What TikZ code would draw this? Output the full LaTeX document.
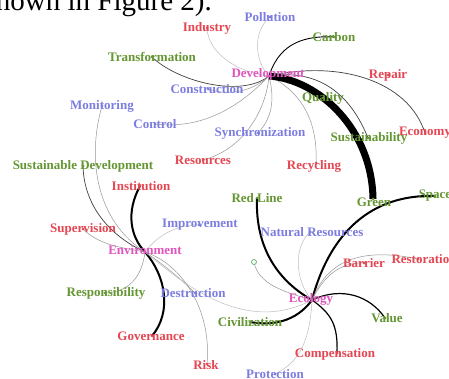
\documentclass[tikz,border=0pt]{standalone}
\usepackage{fontspec}
\setmainfont{Liberation Serif}
\definecolor{cred}{RGB}{228,70,82}
\definecolor{cpur}{RGB}{125,125,225}
\definecolor{cgrn}{RGB}{100,150,50}
\definecolor{cmag}{RGB}{225,85,190}
\definecolor{cgray}{RGB}{150,150,150}
\definecolor{clgray}{RGB}{190,190,190}
\tikzset{
  lab/.style={inner sep=0pt, font=\bfseries\fontsize{13}{13}\selectfont},
  rlab/.style={lab, text=cred},
  plab/.style={lab, text=cpur},
  glab/.style={lab, text=cgrn},
  mlab/.style={lab, text=cmag},
  dotr/.style={fill=cred, circle, inner sep=0pt, minimum size=3pt},
  dotp/.style={fill=cpur, circle, inner sep=0pt, minimum size=3pt},
  dotg/.style={fill=cgrn, circle, inner sep=0pt, minimum size=3pt},
  dotm/.style={fill=cmag, circle, inner sep=0pt, minimum size=3pt},
  egray/.style={draw=cgray, line width=0.5pt},
  elgray/.style={draw=clgray, line width=0.5pt},
  edark/.style={draw=black!75, line width=0.7pt},
  eblack/.style={draw=black, line width=1.2pt},
  ethick/.style={draw=black, line width=2pt},
  ehuge/.style={draw=black, line width=7pt},
}
\begin{document}
\begin{tikzpicture}[x=1pt,y=-1pt]
\useasboundingbox (0,0) rectangle (449,379);
\clip (0,0) rectangle (449,379);
\fill[white] (0,0) rectangle (449,379);
% caption fragment
\node[anchor=base east, inner sep=0pt, font=\fontsize{29}{29}\selectfont] (cap) at (212,11) {shown in Figure 2).};
% coordinates
\coordinate (dev) at (269,76);
\coordinate (ind) at (207,28);
\coordinate (pol) at (270,17);
\coordinate (car) at (334,37);
\coordinate (tra) at (152,57);
\coordinate (rep) at (388,75);
\coordinate (con) at (208,89);
\coordinate (qua) at (323,98);
\coordinate (mon) at (102,106);
\coordinate (ctl) at (155,124);
\coordinate (syn) at (258,133);
\coordinate (sus) at (368,138);
\coordinate (eco) at (425,133);
\coordinate (res) at (203,160);
\coordinate (rec) at (316,163);
\coordinate (sd) at (83,166);
\coordinate (ins) at (140,186);
\coordinate (grn) at (373,199);
\coordinate (spa) at (435,196);
\coordinate (red) at (257,198);
\coordinate (imp) at (199,225);
\coordinate (nat) at (310,232);
\coordinate (sup) at (83,229);
\coordinate (env) at (145,252);
\coordinate (bar) at (364,263);
\coordinate (rst) at (418,259);
\coordinate (ecl) at (312,300);
\coordinate (rsp) at (105,293);
\coordinate (des) at (195,293);
\coordinate (civ) at (250,322);
\coordinate (val) at (385,318);
\coordinate (gov) at (152,336);
\coordinate (cmp) at (337,353);
\coordinate (rsk) at (207,364);
\coordinate (pro) at (275,374);
\coordinate (sml) at (254,262);
% ---- edges: Development
\draw[elgray] (ind) .. controls (208,52) and (235,72) .. (dev);
\draw[elgray] (pol) .. controls (252,32) and (255,62) .. (dev);
\draw[eblack, line width=0.9pt] (dev) .. controls (278,48) and (298,35) .. (car);
\draw[edark] (tra) .. controls (178,82) and (242,98) .. (dev);
\draw[egray] (con) .. controls (228,96) and (252,92) .. (dev);
\draw[egray] (ctl) .. controls (205,130) and (242,104) .. (dev);
\draw[egray] (res) .. controls (242,150) and (266,112) .. (dev);
\draw[egray] (syn) .. controls (274,116) and (274,96) .. (dev);
\draw[egray] (dev) .. controls (302,92) and (318,122) .. (rec);
\draw[egray] (dev) .. controls (292,80) and (312,88) .. (qua);
\draw[edark] (dev) .. controls (322,68) and (352,98) .. (sus);
\draw[edark] (dev) .. controls (338,60) and (408,80) .. (eco);
\draw[ehuge] (dev) .. controls (320,80) and (372,130) .. (grn);
% ---- edges: Environment
\draw[ethick] (ins) .. controls (126,212) and (130,236) .. (env);
\draw[ethick] (env) .. controls (166,276) and (172,312) .. (gov);
\draw[edark] (sd) .. controls (84,206) and (110,236) .. (env);
\draw[egray] (mon) .. controls (86,162) and (98,222) .. (env);
\draw[egray] (sup) .. controls (100,246) and (125,248) .. (env);
\draw[elgray] (env) .. controls (160,232) and (182,224) .. (imp);
\draw[egray] (env) .. controls (142,276) and (130,292) .. (rsp);
\draw[egray] (env) .. controls (166,266) and (184,282) .. (des);
\draw[egray] (env) .. controls (182,264) and (212,310) .. (rsk);
\draw[elgray] (env) .. controls (185,285) and (245,335) .. (ecl);
% ---- edges: Ecology
\draw[ethick] (red) .. controls (255,250) and (280,282) .. (ecl);
\draw[ethick] (ecl) .. controls (330,232) and (372,194) .. (spa);
\draw[egray] (ecl) .. controls (324,276) and (340,262) .. (bar);
\draw[egray] (ecl) .. controls (326,264) and (356,246) .. (rst);
\draw[egray] (ecl) .. controls (284,292) and (258,284) .. (sml);
\draw[elgray] (ecl) .. controls (294,280) and (294,246) .. (nat);
\draw[eblack] (ecl) .. controls (342,286) and (370,296) .. (val);
\draw[eblack] (ecl) .. controls (332,314) and (338,326) .. (cmp);
\draw[elgray] (ecl) .. controls (310,340) and (300,362) .. (pro);
\draw[ethick] (ecl) .. controls (296,322) and (272,326) .. (civ);
% ---- labels
\node[rlab] (indL) at (ind) {Industry};
\node[plab] (polL) at (pol) {Pollution};
\node[glab] (carL) at (car) {Carbon};
\node[glab] (traL) at (tra) {Transformation};
\node[mlab] (devL) at (268,74) {Development};
\node[rlab] (repL) at (rep) {Repair};
\node[plab] (conL) at (207,89) {Construction};
\node[glab] (quaL) at (qua) {Quality};
\node[plab] (monL) at (mon) {Monitoring};
\node[plab] (ctlL) at (ctl) {Control};
\node[plab] (synL) at (260,133) {Synchronization};
\node[glab] (susL) at (369,138) {Sustainability};
\node[rlab] (ecoL) at (eco) {Economy};
\node[rlab] (resL) at (res) {Resources};
\node[rlab] (recL) at (314,166) {Recycling};
\node[glab] (sdL) at (sd) {Sustainable Development};
\node[rlab] (insL) at (141,186) {Institution};
\node[glab] (grnL) at (374,202) {Green};
\node[glab] (spaL) at (spa) {Space};
\node[glab] (redL) at (red) {Red Line};
\node[plab] (impL) at (200,225) {Improvement};
\node[plab] (natL) at (312,232) {Natural Resources};
\node[rlab] (supL) at (sup) {Supervision};
\node[mlab] (envL) at (145,250) {Environment};
\node[rlab] (barL) at (bar) {Barrier};
\node[rlab] (rstL) at (424,259) {Restoration};
\node[mlab] (eclL) at (311,299) {Ecology};
\node[glab] (rspL) at (106,293) {Responsibility};
\node[plab] (desL) at (193,293) {Destruction};
\node[glab] (civL) at (250,322) {Civilization};
\node[glab] (valL) at (387,318) {Value};
\node[rlab] (govL) at (151,336) {Governance};
\node[rlab] (cmpL) at (335,354) {Compensation};
\node[rlab] (rskL) at (206,365) {Risk};
\node[plab] (proL) at (pro) {Protection};
% ---- dots
\foreach \n in {ind,rep,res,rec,ins,sup,bar,rst,gov,cmp,rsk,eco} \node[dotr] at (\n) {};
\foreach \n in {pol,con,mon,ctl,syn,imp,nat,des,pro} \node[dotp] at (\n) {};
\foreach \n in {car,tra,qua,sus,sd,grn,spa,red,rsp,civ,val} \node[dotg] at (\n) {};
\foreach \n in {dev,env,ecl} \node[dotm] at (\n) {};
\node[circle, draw=black!30!green!40!gray, fill=green!8, line width=0.5pt, inner sep=0pt, minimum size=5pt] (smlN) at (sml) {};
\end{tikzpicture}
\end{document}
